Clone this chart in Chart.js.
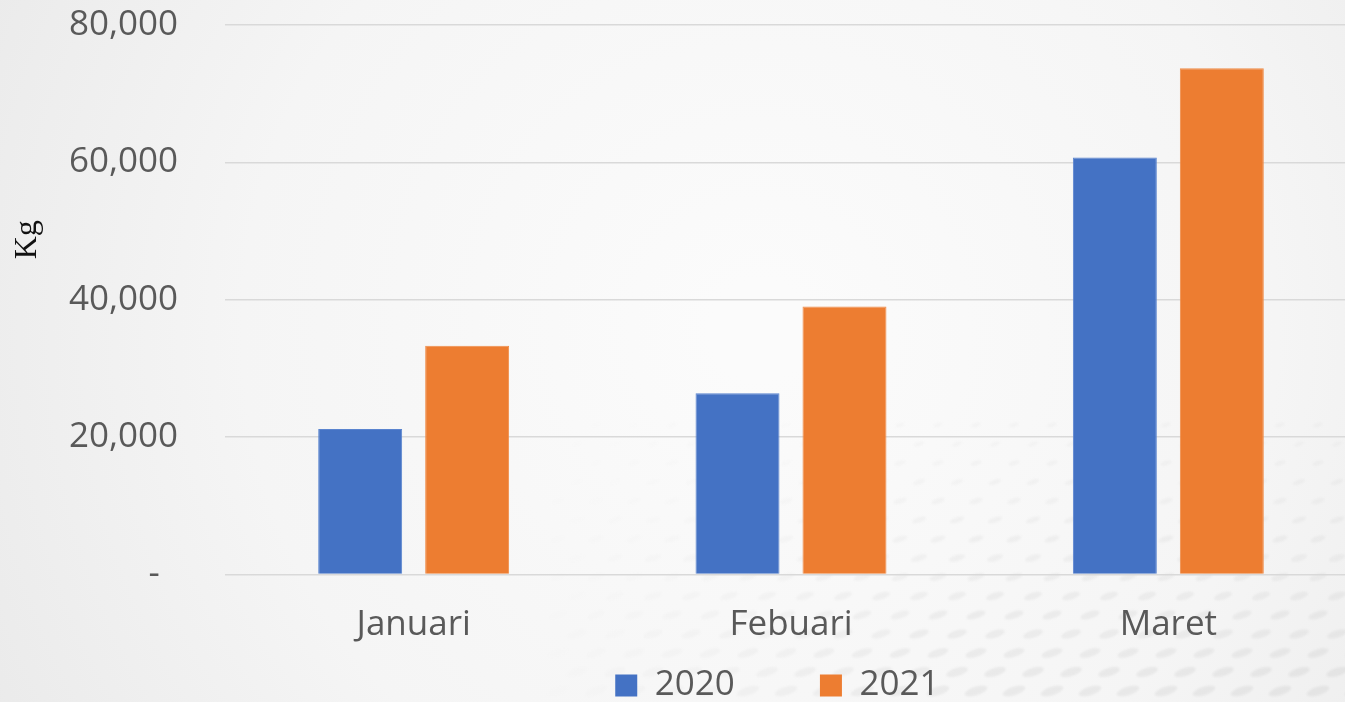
<!DOCTYPE html>
<html>
<head>
<meta charset="utf-8">
<script src="https://cdn.jsdelivr.net/npm/chart.js@4/dist/chart.umd.min.js"></script>
<style>
html, body { margin: 0; padding: 0; overflow: hidden; width: 1345px; height: 702px; background: #f4f4f4; }
#wrap { position: absolute; left: 0; top: 0; width: 1357px; height: 713px; }
</style>
</head>
<body>
<div id="wrap"><canvas id="c"></canvas></div>
<script>
const categories = ['Januari', 'Febuari', 'Maret'];
const seriesNames = ['2020', '2021'];
const values2020 = [21200, 26400, 60700];
const values2021 = [33300, 39000, 73700];
const yTickValues = [0, 20000, 40000, 60000, 80000];
const yTickLabels = ['-', '20,000', '40,000', '60,000', '80,000'];
const yAxisTitle = 'Kg';

const bgPlugin = {
  id: 'bg',
  beforeDraw(chart) {
    const ctx = chart.ctx;
    const w = chart.width, h = chart.height;
    ctx.save();
    const g = ctx.createRadialGradient(760, 330, 50, 760, 330, 900);
    g.addColorStop(0, '#fbfbfb');
    g.addColorStop(0.55, '#f5f5f5');
    g.addColorStop(1, '#e9e9e9');
    ctx.fillStyle = g;
    ctx.fillRect(0, 0, w, h);
    // subtle dotted decoration in the lower right
    ctx.filter = 'blur(1.2px)';
    for (let r = 0; ; r++) {
      const y = 425 + r * 19;
      if (y > h + 10) break;
      const t = Math.min(1, (y - 425) / 280);
      for (let x = 520 + (r % 2) * 19; x < w + 30; x += 38) {
        const s = Math.max(0, Math.min(1, (x - 520) / 450)) * (0.3 + 0.7 * t);
        if (s <= 0.02) continue;
        ctx.fillStyle = 'rgba(150,150,150,' + (0.14 * s).toFixed(3) + ')';
        ctx.beginPath();
        ctx.ellipse(x, y, 5 + 7 * t, 2 + 2.2 * t, -0.3, 0, Math.PI * 2);
        ctx.fill();
      }
    }
    ctx.filter = 'none';
    ctx.restore();
  }
};

const textColor = '#595959';
const sp = ' ';

new Chart(document.getElementById('c'), {
  type: 'bar',
  data: {
    labels: categories,
    datasets: [
      { label: seriesNames[0], data: values2020, backgroundColor: '#4472C4', borderColor: '#5a84cf', borderWidth: 1,
        categoryPercentage: 0.567, barPercentage: 0.785 },
      { label: seriesNames[1], data: values2021, backgroundColor: '#ED7D31', borderColor: '#f08c48', borderWidth: 1,
        categoryPercentage: 0.567, barPercentage: 0.785 }
    ]
  },
  options: {
    responsive: true,
    maintainAspectRatio: false,
    animation: false,
    layout: { padding: { top: 25, left: 0, right: 0, bottom: 0 } },
    plugins: {
      tooltip: { enabled: false },
      legend: {
        position: 'bottom',
        fullSize: false,
        labels: {
          color: textColor,
          font: { family: 'Open Sans', size: 35 },
          boxWidth: 22,
          boxHeight: 22,
          padding: 21.5,
          generateLabels(chart) {
            return chart.data.datasets.map((ds, i) => ({
              text: i === 0 ? ds.label + sp.repeat(7) : ds.label + sp.repeat(3),
              fillStyle: ds.backgroundColor,
              strokeStyle: ds.backgroundColor,
              lineWidth: 0,
              hidden: false,
              datasetIndex: i,
              fontColor: textColor
            }));
          }
        }
      }
    },
    scales: {
      x: {
        grid: { display: false, tickLength: 30 },
        border: { display: false },
        ticks: { color: textColor, font: { family: 'Open Sans', size: 35 }, padding: 0 }
      },
      y: {
        min: 0,
        max: 80000,
        afterFit(scale) { scale.width = 225; scale.paddingTop = 0; scale.paddingBottom = 0; },
        afterBuildTicks(scale) { scale.ticks = yTickValues.map(v => ({ value: v })); },
        grid: { color: '#d9d9d9', lineWidth: 1.5, drawTicks: false },
        border: { display: false },
        ticks: {
          color: textColor,
          font: { family: 'Open Sans', size: 35 },
          padding: 47,
          callback(value) {
            const i = yTickValues.indexOf(value);
            const t = i >= 0 ? yTickLabels[i] : '';
            return t === '-' ? t + sp.repeat(2) : t;
          }
        },
        title: {
          display: true,
          text: sp.repeat(15) + yAxisTitle,
          color: '#111111',
          font: { family: 'Liberation Serif', size: 32 },
          padding: { top: 8, bottom: 0 }
        }
      }
    }
  },
  plugins: [bgPlugin]
});
</script>
</body>
</html>
